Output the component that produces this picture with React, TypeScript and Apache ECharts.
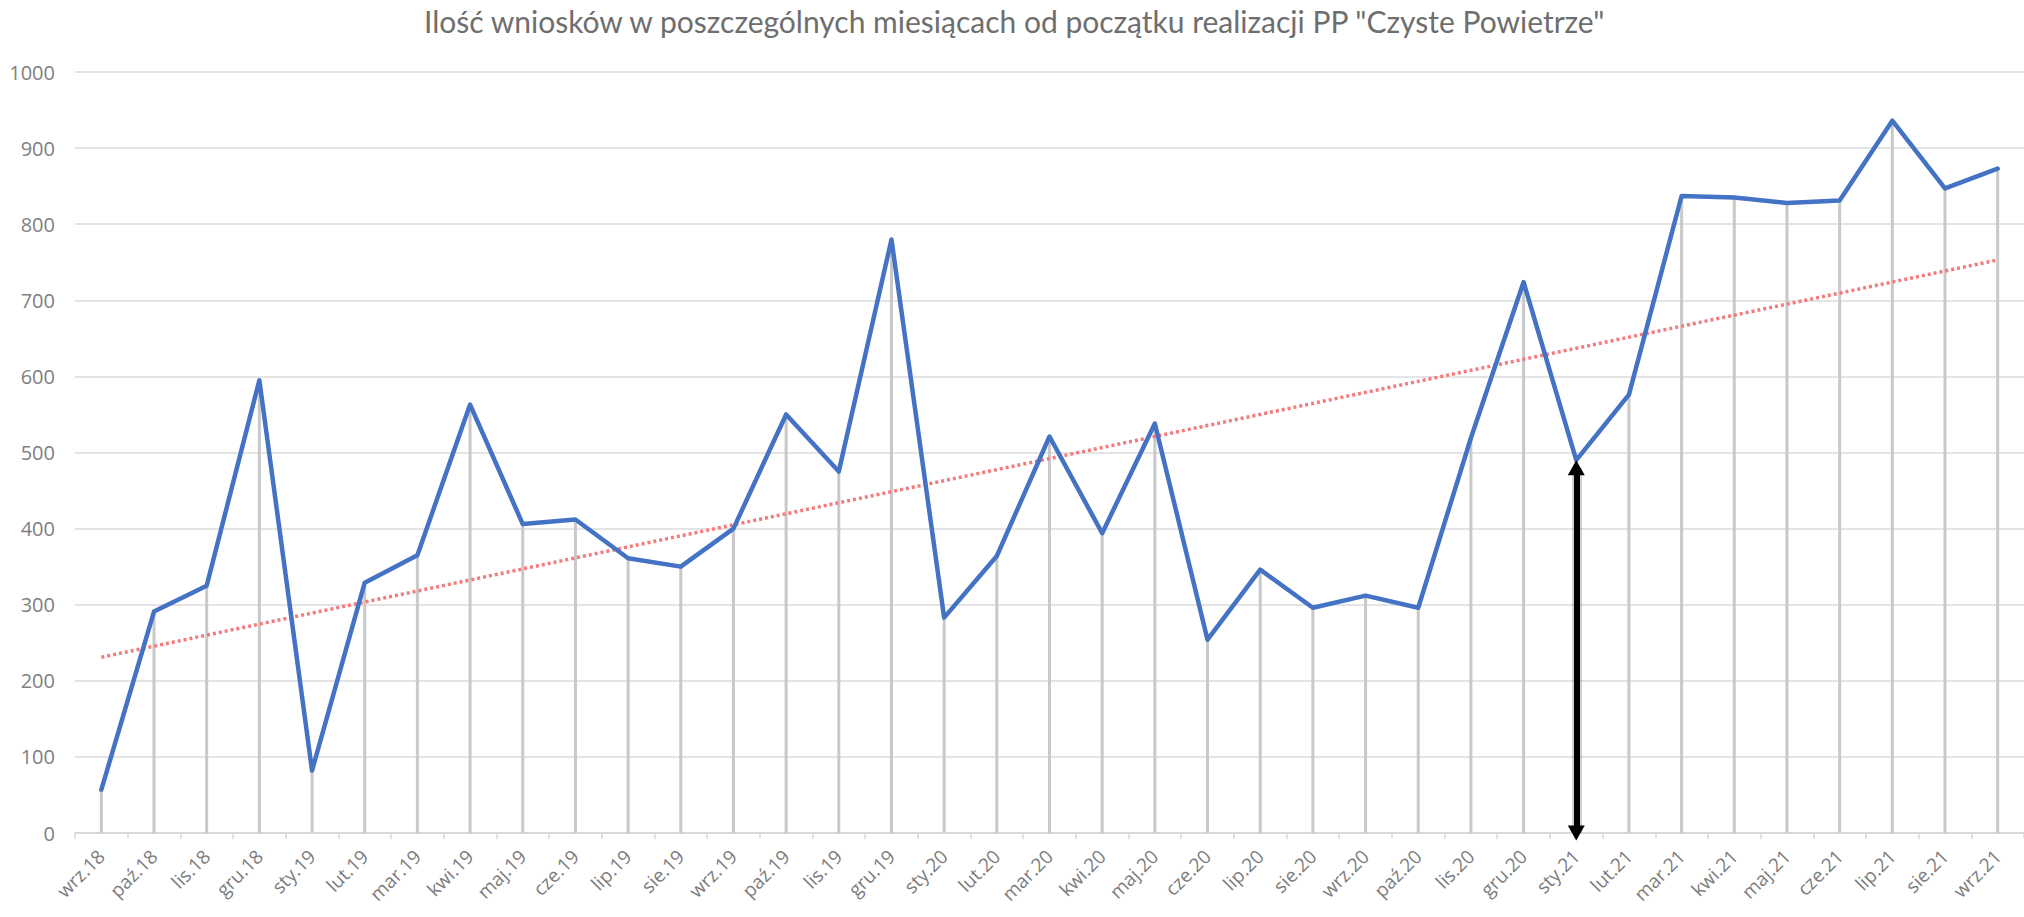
import React, { useEffect, useRef } from "react";
import * as echarts from "echarts";

const titleText = 'Ilość wniosków w poszczególnych miesiącach od początku realizacji PP "Czyste Powietrze"';

const categories = [
  "wrz.18", "paź.18", "lis.18", "gru.18",
  "sty.19", "lut.19", "mar.19", "kwi.19", "maj.19", "cze.19", "lip.19", "sie.19", "wrz.19", "paź.19", "lis.19", "gru.19",
  "sty.20", "lut.20", "mar.20", "kwi.20", "maj.20", "cze.20", "lip.20", "sie.20", "wrz.20", "paź.20", "lis.20", "gru.20",
  "sty.21", "lut.21", "mar.21", "kwi.21", "maj.21", "cze.21", "lip.21", "sie.21", "wrz.21",
];

const applications = [
  57, 291, 325, 595,
  82, 329, 365, 563, 406, 412, 361, 350, 400, 550, 475, 780,
  283, 364, 521, 394, 538, 254, 346, 296, 312, 296, 519, 724,
  490, 576, 837, 835, 828, 831, 936, 847, 873,
];

// linear trend line end points
const trendStart = 231;
const trendEnd = 753;

// arrow annotation
const arrowCategory = "sty.21";
const arrowTop = 480;
const arrowBottom = 0;

const yMin = 0;
const yMax = 1000;
const yInterval = 100;

export default function App() {
  const ref = useRef<HTMLDivElement>(null);

  useEffect(() => {
    if (!ref.current) return;
    const chart = echarts.init(ref.current, undefined, { renderer: "svg" });
    const axisFont = "'Open Sans', 'DejaVu Sans', sans-serif";
    const arrowSeg = [{ coord: [arrowCategory, arrowTop] }, { coord: [arrowCategory, arrowBottom] }];
    chart.setOption({
      animation: false,
      backgroundColor: "#ffffff",
      title: {
        text: titleText,
        left: 419,
        top: 1,
        textStyle: {
          fontFamily: "Lato, 'Open Sans', sans-serif",
          fontSize: 30,
          fontWeight: "normal",
          color: "#6e6e6e",
        },
      },
      grid: { left: 75, right: -4, top: 72, bottom: 84 },
      xAxis: {
        type: "category",
        data: categories,
        boundaryGap: true,
        axisLine: { show: true, lineStyle: { color: "#d9d9d9", width: 2 } },
        axisTick: { show: true, alignWithLabel: false, length: 6, lineStyle: { color: "#d9d9d9", width: 1.5 } },
        axisLabel: {
          interval: 0,
          rotate: 45,
          margin: 20,
          fontFamily: axisFont,
          fontSize: 19,
          color: "#7c7c7c",
        },
        splitLine: { show: false },
      },
      yAxis: {
        type: "value",
        min: yMin,
        max: yMax,
        interval: yInterval,
        axisLine: { show: false },
        axisTick: { show: false },
        axisLabel: {
          margin: 20,
          fontFamily: axisFont,
          fontSize: 20,
          color: "#808080",
          formatter: (v: number) => String(v),
        },
        splitLine: { show: true, lineStyle: { color: "#e4e4e4", width: 2 } },
      },
      series: [
        {
          type: "bar",
          name: "drop",
          data: applications,
          barWidth: 3,
          itemStyle: { color: "#c9c9c9" },
          silent: true,
          clip: false,
          z: 1,
        },
        {
          type: "line",
          name: "wnioski",
          data: applications,
          symbol: "none",
          z: 5,
          lineStyle: { color: "#4472C4", width: 4.5, cap: "round", join: "round" },
          markLine: {
            silent: true,
            symbol: ["none", "none"],
            z: 4,
            label: { show: false },
            lineStyle: { color: "#f47a7c", width: 3.5, type: [3, 3] },
            data: [[{ coord: [categories[0], trendStart] }, { coord: [categories[categories.length - 1], trendEnd] }]],
          },
        },
        {
          type: "line",
          name: "arrowShadow",
          data: [],
          clip: false,
          silent: true,
          z: 18,
          markLine: {
            silent: true,
            symbol: ["none", "none"],
            z: 18,
            label: { show: false },
            lineStyle: { color: "rgba(0,0,0,0.18)", width: 10, type: "solid" },
            data: [arrowSeg],
          },
        },
        {
          type: "line",
          name: "arrow",
          data: [],
          clip: false,
          silent: true,
          z: 20,
          markLine: {
            silent: true,
            symbol: ["triangle", "triangle"],
            symbolSize: [17, 15],
            z: 20,
            label: { show: false },
            lineStyle: { color: "#000000", width: 6, type: "solid" },
            data: [arrowSeg],
          },
        },
      ],
    });
    return () => chart.dispose();
  }, []);

  return (
    <div
      ref={ref}
      style={{ position: "fixed", left: 0, top: 0, width: 2024, height: 917 }}
    />
  );
}
